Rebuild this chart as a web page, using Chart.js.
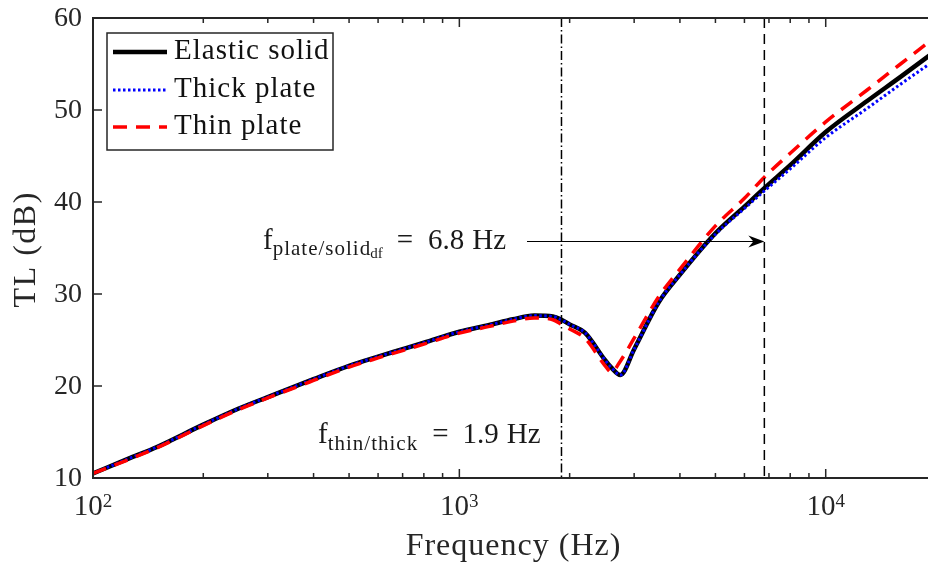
<!DOCTYPE html>
<html>
<head>
<meta charset="utf-8">
<script src="https://cdn.jsdelivr.net/npm/chart.js@4.4.1/dist/chart.umd.min.js"></script>
<style>
  html, body { margin: 0; padding: 0; background: #fff; overflow: hidden; }
  #wrap { width: 940px; height: 567px; position: relative; }
  #probe { position: absolute; left: -999px; top: 0; font-family: "Liberation Serif", "Times New Roman", serif; font-size: 20px; }
</style>
</head>
<body>
<span id="probe">Elastic solid 0123456789</span>
<div id="wrap"><canvas id="myChart" width="940" height="567"></canvas></div>
<script>
// data
var freq = [100, 125, 150, 200, 250, 300, 400, 500, 600, 700, 800, 1000, 1200, 1400, 1600, 1800, 1900, 2000, 2200, 2500, 2600, 2750, 3000, 3500, 4000, 5000, 6000, 6800, 8000, 10000, 13000, 16000, 20000];
var elasticSolid = [10.5, 12.1, 13.4, 15.8, 17.55, 18.8, 20.75, 22.2, 23.2, 24.0, 24.7, 25.9, 26.6, 27.25, 27.65, 27.55, 27.2, 26.7, 25.8, 22.8, 22.0, 21.2, 24.0, 29.1, 32.1, 36.6, 39.5, 41.5, 44.0, 47.6, 51.0, 53.6, 56.45];
var thickPlate = [10.5, 12.1, 13.4, 15.8, 17.55, 18.8, 20.75, 22.2, 23.2, 24.0, 24.7, 25.9, 26.6, 27.25, 27.65, 27.55, 27.2, 26.7, 25.8, 22.8, 22.0, 21.2, 24.0, 29.1, 32.1, 36.5, 39.3, 41.2, 43.6, 47.0, 50.2, 52.8, 55.5];
var thinPlate = [10.5, 12.0, 13.3, 15.7, 17.45, 18.7, 20.6, 22.05, 23.05, 23.85, 24.55, 25.75, 26.45, 27.05, 27.4, 27.2, 26.7, 26.2, 25.2, 22.2, 21.5, 22.7, 25.2, 29.7, 32.7, 37.4, 40.4, 42.7, 45.3, 48.7, 52.2, 55.0, 58.0];
var yTicks = [10, 20, 30, 40, 50, 60];
var xMajor = [100, 1000, 10000];
var xMinor = [200, 300, 400, 500, 600, 700, 800, 900, 2000, 3000, 4000, 5000, 6000, 7000, 8000, 9000, 20000];
var fThinThick = 1900;
var fPlateSolid = 6800;
var arrowLevel = 35.8;

var serif = '"Liberation Serif", "Times New Roman", serif';
var axisCol = '#262626';

function pts(arr) {
    return freq.map(function (f, i) { return { x: f, y: arr[i] }; });
}

// text with extra spacing between characters
function spaced(ctx, t, x, y, ls) {
    if (!ls) { ctx.fillText(t, x, y); return ctx.measureText(t).width; }
    var start = x;
    for (var i = 0; i < t.length; i++) {
        ctx.fillText(t[i], x, y);
        x += ctx.measureText(t[i]).width + ls;
    }
    return x - start - ls;
}
function spacedWidth(ctx, t, ls) {
    if (!ls) return ctx.measureText(t).width;
    var w = 0;
    for (var i = 0; i < t.length; i++) w += ctx.measureText(t[i]).width + ls;
    return w - ls;
}

// text pieces: {t, s (size), dy, gap (space before), ls (letter spacing)}
function drawRich(ctx, x, y, parts) {
    ctx.textAlign = 'left';
    ctx.textBaseline = 'alphabetic';
    parts.forEach(function (p) {
        x += p.gap || 0;
        ctx.font = p.s + 'px ' + serif;
        x += spaced(ctx, p.t, x, y + (p.dy || 0), p.ls || 0);
    });
    return x;
}

var decor = {
    id: 'decor',
    afterDatasetsDraw: function (chart) {
        var ctx = chart.ctx, a = chart.chartArea;
        var sx = chart.scales.x, sy = chart.scales.y;
        ctx.save();

        // vertical marker lines
        ctx.strokeStyle = '#000';
        ctx.lineWidth = 1.5;
        ctx.setLineDash([9, 3, 1.5, 3]);
        var x1 = sx.getPixelForValue(fThinThick);
        ctx.beginPath(); ctx.moveTo(x1, a.top); ctx.lineTo(x1, a.bottom); ctx.stroke();
        ctx.setLineDash([10, 6]);
        var x2 = sx.getPixelForValue(fPlateSolid);
        ctx.beginPath(); ctx.moveTo(x2, a.top); ctx.lineTo(x2, a.bottom); ctx.stroke();
        ctx.setLineDash([]);

        // arrow
        var ay = Math.round(sy.getPixelForValue(arrowLevel)) + 0.5;
        ctx.lineWidth = 1;
        ctx.beginPath(); ctx.moveTo(527, ay); ctx.lineTo(x2 - 4, ay); ctx.stroke();
        ctx.fillStyle = '#000';
        ctx.beginPath();
        ctx.moveTo(x2, ay); ctx.lineTo(x2 - 16, ay - 6); ctx.lineTo(x2 - 11, ay); ctx.lineTo(x2 - 16, ay + 6); ctx.closePath();
        ctx.fill();

        // annotation text
        ctx.fillStyle = '#1a1a1a';
        drawRich(ctx, 263, 249, [
            { t: 'f', s: 29 },
            { t: 'plate/solid', s: 21, dy: 6, ls: 1 },
            { t: 'df', s: 15, dy: 9 },
            { t: '=', s: 29, gap: 14 },
            { t: '6.8', s: 29, gap: 15 },
            { t: 'Hz', s: 29, gap: 8 }
        ]);
        drawRich(ctx, 318, 443, [
            { t: 'f', s: 29 },
            { t: 'thin/thick', s: 21, dy: 7, ls: 1 },
            { t: '=', s: 29, gap: 15 },
            { t: '1.9', s: 29, gap: 14 },
            { t: 'Hz', s: 29, gap: 8 }
        ]);

        // frame
        ctx.strokeStyle = axisCol;
        ctx.lineWidth = 2;
        ctx.beginPath();
        ctx.moveTo(a.right, a.top); ctx.lineTo(a.left, a.top); ctx.lineTo(a.left, a.bottom); ctx.lineTo(a.right, a.bottom);
        ctx.stroke();

        // ticks pointing inward
        ctx.lineWidth = 1.5;
        ctx.beginPath();
        xMajor.forEach(function (v) {
            var px = sx.getPixelForValue(v);
            ctx.moveTo(px, a.bottom); ctx.lineTo(px, a.bottom - 9);
            ctx.moveTo(px, a.top); ctx.lineTo(px, a.top + 9);
        });
        xMinor.forEach(function (v) {
            var px = sx.getPixelForValue(v);
            ctx.moveTo(px, a.bottom); ctx.lineTo(px, a.bottom - 5);
            ctx.moveTo(px, a.top); ctx.lineTo(px, a.top + 5);
        });
        yTicks.forEach(function (v) {
            var py = sy.getPixelForValue(v);
            ctx.moveTo(a.left, py); ctx.lineTo(a.left + 9, py);
        });
        ctx.stroke();

        // tick labels
        ctx.fillStyle = '#262626';
        ctx.font = '28px ' + serif;
        ctx.textAlign = 'right';
        ctx.textBaseline = 'middle';
        yTicks.forEach(function (v) {
            ctx.fillText(String(v), 82, sy.getPixelForValue(v) + 1);
        });
        xMajor.forEach(function (v) {
            var px = sx.getPixelForValue(v);
            var e = String(Math.round(Math.log10(v)));
            ctx.font = '29px ' + serif;
            var w1 = ctx.measureText('10').width;
            ctx.font = '19px ' + serif;
            var w2 = ctx.measureText(e).width;
            drawRich(ctx, px - (w1 + w2) / 2, 515, [{ t: '10', s: 29 }, { t: e, s: 19, dy: -8 }]);
        });

        // axis titles
        ctx.font = '32px ' + serif;
        ctx.textAlign = 'left';
        ctx.textBaseline = 'alphabetic';
        var xt = 'Frequency (Hz)';
        spaced(ctx, xt, 513 - spacedWidth(ctx, xt, 1) / 2, 555, 1);
        ctx.save();
        ctx.translate(35, 250);
        ctx.rotate(-Math.PI / 2);
        var yt = 'TL (dB)';
        spaced(ctx, yt, -spacedWidth(ctx, yt, 1.5) / 2, 0, 1.5);
        ctx.restore();

        // legend
        ctx.fillStyle = '#fff';
        ctx.fillRect(107, 33, 226, 117);
        ctx.strokeStyle = axisCol;
        ctx.lineWidth = 1.5;
        ctx.strokeRect(107, 33, 226, 117);
        var rows = [52, 90, 127];
        chart.data.datasets.forEach(function (ds, k) {
            ctx.strokeStyle = ds.borderColor;
            ctx.lineWidth = ds.borderWidth;
            ctx.setLineDash(ds.borderDash || []);
            ctx.beginPath(); ctx.moveTo(113, rows[k]); ctx.lineTo(167, rows[k]); ctx.stroke();
            ctx.setLineDash([]);
            ctx.fillStyle = '#111';
            ctx.font = '29px ' + serif;
            ctx.textAlign = 'left';
            ctx.textBaseline = 'middle';
            spaced(ctx, ds.label, 174, rows[k] - 1, 1);
        });

        ctx.restore();
    }
};

function makeChart() {
    new Chart(document.getElementById('myChart'), {
        type: 'line',
        data: {
            datasets: [
                {
                    label: 'Elastic solid',
                    data: pts(elasticSolid),
                    borderColor: '#000',
                    borderWidth: 4.5,
                    order: 3
                },
                {
                    label: 'Thick plate',
                    data: pts(thickPlate),
                    borderColor: '#0000ff',
                    borderWidth: 3,
                    borderDash: [2.5, 2.5],
                    order: 2
                },
                {
                    label: 'Thin plate',
                    data: pts(thinPlate),
                    borderColor: '#ff0000',
                    borderWidth: 3.5,
                    borderDash: [14, 9],
                    order: 1
                }
            ]
        },
        options: {
            responsive: false,
            animation: false,
            events: [],
            layout: { padding: { left: 93, top: 18, right: 4, bottom: 89 } },
            elements: {
                point: { radius: 0 },
                line: { fill: false, borderJoinStyle: 'round', cubicInterpolationMode: 'monotone' }
            },
            scales: {
                x: { type: 'logarithmic', min: 100, max: 20000, display: false },
                y: { type: 'linear', min: 10, max: 60, display: false }
            },
            plugins: {
                legend: { display: false },
                tooltip: { enabled: false }
            }
        },
        plugins: [decor]
    });
}

if (document.fonts && document.fonts.load) {
    Promise.all([
        document.fonts.load('29px "Liberation Serif"'),
        document.fonts.load('29px "Times New Roman"')
    ]).then(makeChart, makeChart);
} else {
    makeChart();
}
</script>
</body>
</html>
